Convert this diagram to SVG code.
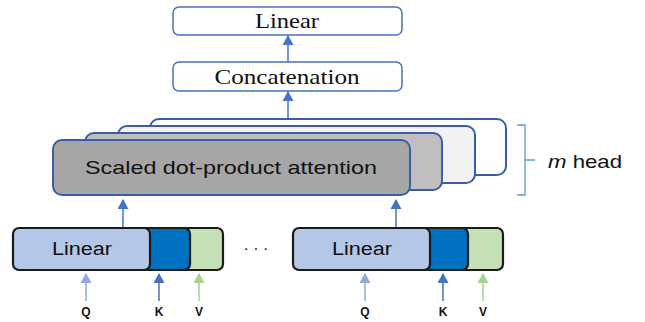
<svg xmlns="http://www.w3.org/2000/svg" width="645" height="322" viewBox="0 0 645 322">
  <style>
    .serif { font-family: "Liberation Serif", "Times New Roman", serif; fill: #111; }
    .sans { font-family: "Liberation Sans", Arial, sans-serif; fill: #111; }
    .topbox { fill: #fff; stroke: #4472C4; stroke-width: 1.5; }
    .head { stroke: #3A5DA8; stroke-width: 2; }
    .inbox { stroke: #1a1a1a; stroke-width: 2.2; }
    .conn { fill: none; stroke-width: 1.5; }
  </style>
  <defs>
    <marker id="arrMid" viewBox="0 0 11 10" refX="5.5" refY="1" markerWidth="11" markerHeight="10" markerUnits="userSpaceOnUse">
      <path d="M0,10 L5.5,0 L11,10 Z" fill="#4472C4"/>
    </marker>
    <marker id="arrLight" viewBox="0 0 11 10" refX="5.5" refY="1" markerWidth="11" markerHeight="10" markerUnits="userSpaceOnUse">
      <path d="M0,10 L5.5,0 L11,10 Z" fill="#8FAADC"/>
    </marker>
    <marker id="arrGreen" viewBox="0 0 11 10" refX="5.5" refY="1" markerWidth="11" markerHeight="10" markerUnits="userSpaceOnUse">
      <path d="M0,10 L5.5,0 L11,10 Z" fill="#A9D18E"/>
    </marker>
  </defs>

  <rect width="645" height="322" fill="#fff"/>

  <!-- output projection -->
  <g id="linear-out">
    <rect class="topbox" x="173" y="7" width="229" height="28" rx="6"/>
    <text class="serif" x="287" y="28" font-size="21" text-anchor="middle" textLength="64" lengthAdjust="spacingAndGlyphs">Linear</text>
  </g>

  <g id="concat">
    <rect class="topbox" x="173" y="62" width="229" height="29" rx="6"/>
    <text class="serif" x="287" y="84" font-size="21" text-anchor="middle" textLength="145" lengthAdjust="spacingAndGlyphs">Concatenation</text>
  </g>

  <!-- stacked attention heads, back to front -->
  <g id="attention-heads">
    <rect class="head" x="150" y="119" width="356" height="56" rx="9" fill="#ffffff"/>
    <rect class="head" x="118" y="126" width="357" height="57" rx="9" fill="#F2F2F2"/>
    <rect class="head" x="85" y="133" width="357" height="57" rx="9" fill="#BFBFBF"/>
    <rect class="head" x="53" y="140" width="357" height="55" rx="9" fill="#A6A6A6"/>
    <text class="sans" x="231" y="174" font-size="19" text-anchor="middle" textLength="292" lengthAdjust="spacingAndGlyphs">Scaled dot-product attention</text>
  </g>

  <!-- brace marking the number of heads -->
  <g id="head-count">
    <path d="M517,125 H525 V195 H517 M525,160 H535" fill="none" stroke="#5B9BD5" stroke-width="1.3"/>
    <text class="sans" x="548" y="168" font-size="19" textLength="74" lengthAdjust="spacingAndGlyphs"><tspan font-style="italic">m</tspan> head</text>
  </g>

  <!-- first head input projections -->
  <g id="proj-1">
    <rect class="inbox" x="175" y="228" width="48" height="42" rx="6" fill="#C5E0B4"/>
    <rect class="inbox" x="60" y="228" width="130" height="42" rx="6" fill="#0070C0"/>
    <rect class="inbox" x="13" y="228" width="137" height="42" rx="6" fill="#B4C7E7"/>
    <text class="sans" x="82" y="255" font-size="18" text-anchor="middle" textLength="60" lengthAdjust="spacingAndGlyphs">Linear</text>
  </g>

  <text id="ellipsis" class="sans" x="256" y="254" font-size="16" text-anchor="middle">· · ·</text>

  <!-- last head input projections -->
  <g id="proj-h">
    <rect class="inbox" x="455" y="228" width="48" height="42" rx="6" fill="#C5E0B4"/>
    <rect class="inbox" x="340" y="228" width="128" height="42" rx="6" fill="#0070C0"/>
    <rect class="inbox" x="293" y="228" width="137" height="42" rx="6" fill="#B4C7E7"/>
    <text class="sans" x="362" y="255" font-size="18" text-anchor="middle" textLength="60" lengthAdjust="spacingAndGlyphs">Linear</text>
  </g>

  <!-- input labels -->
  <g id="inputs" class="sans" font-size="12" font-weight="bold" text-anchor="middle">
    <text x="86" y="316">Q</text>
    <text x="159" y="316">K</text>
    <text x="199" y="316">V</text>
    <text x="365" y="316">Q</text>
    <text x="443" y="316">K</text>
    <text x="483" y="316">V</text>
  </g>

  <g id="connectors">
    <line class="conn" x1="288" y1="62" x2="288" y2="36" stroke="#4472C4" marker-end="url(#arrMid)"/>
    <line class="conn" x1="288" y1="118" x2="288" y2="92" stroke="#4472C4" marker-end="url(#arrMid)"/>
    <line class="conn" x1="123" y1="227" x2="123" y2="200" stroke="#4472C4" marker-end="url(#arrMid)"/>
    <line class="conn" x1="396" y1="227" x2="396" y2="200" stroke="#4472C4" marker-end="url(#arrMid)"/>
    <line class="conn" x1="86" y1="301" x2="86" y2="274" stroke="#8FAADC" marker-end="url(#arrLight)"/>
    <line class="conn" x1="159" y1="301" x2="159" y2="274" stroke="#4472C4" marker-end="url(#arrMid)"/>
    <line class="conn" x1="199" y1="301" x2="199" y2="274" stroke="#A9D18E" marker-end="url(#arrGreen)"/>
    <line class="conn" x1="365" y1="301" x2="365" y2="274" stroke="#8FAADC" marker-end="url(#arrLight)"/>
    <line class="conn" x1="443" y1="301" x2="443" y2="274" stroke="#4472C4" marker-end="url(#arrMid)"/>
    <line class="conn" x1="483" y1="301" x2="483" y2="274" stroke="#A9D18E" marker-end="url(#arrGreen)"/>
  </g>
</svg>
